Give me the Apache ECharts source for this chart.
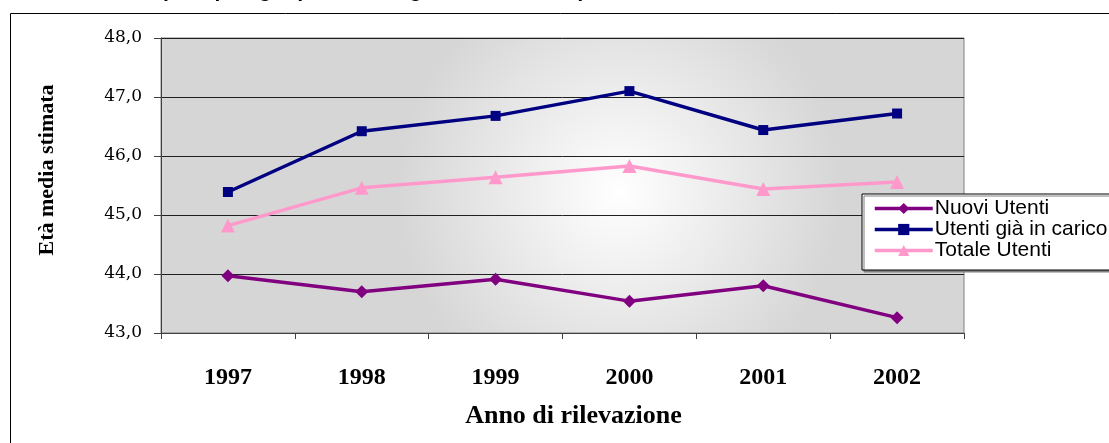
<!DOCTYPE html>
<html>
<head>
<meta charset="utf-8">
<script src="https://cdn.jsdelivr.net/npm/echarts@6/dist/echarts.min.js"></script>
<style>html,body{margin:0;padding:0;background:#fff}#c{width:1109px;height:443px}</style>
</head>
<body>
<div id="c"></div>
<script>
const years = ['1997','1998','1999','2000','2001','2002'];
const nuoviUtenti = [43.97, 43.70, 43.91, 43.54, 43.80, 43.26];
const utentiGiaInCarico = [45.39, 46.42, 46.68, 47.10, 46.44, 46.72];
const totaleUtenti = [44.82, 45.46, 45.64, 45.83, 45.44, 45.56];
const seriesNames = ['Nuovi Utenti', 'Utenti già in carico', 'Totale Utenti'];
const titleText = 'Età media per tipologia (utenti in regione Lombardia)';
const yAxisTitle = 'Età media stimata';
const xAxisTitle = 'Anno di rilevazione';

const chart = echarts.init(document.getElementById('c'), null, {renderer: 'canvas'});
const serif = '"Liberation Serif", "DejaVu Serif", serif';
const sans = '"Liberation Sans", Arial, sans-serif';
chart.setOption({
  animation: false,
  backgroundColor: '#fff',
  graphic: [
    {type: 'rect', left: 10, top: 13, z: -10, silent: true,
     shape: {width: 1200, height: 500},
     style: {fill: 'transparent', stroke: '#000', lineWidth: 1}},
    {type: 'text', left: 58, top: -19, silent: true,
     style: {text: titleText, fill: '#000', font: 'bold 21px ' + sans}},
    {type: 'text', x: 47, y: 170, rotation: Math.PI / 2, silent: true,
     style: {text: yAxisTitle, fill: '#000', font: 'bold 22px ' + serif,
             align: 'center', verticalAlign: 'middle'}}
  ],
  grid: {
    left: 161, right: 145, top: 38, bottom: 110,
    show: true,
    borderColor: '#808080', borderWidth: 1,
    backgroundColor: {
      type: 'radial', x: 0.57, y: 0.52, r: 0.75,
      colorStops: [{offset: 0, color: '#ffffff'}, {offset: 1, color: '#d6d6d6'}]
    }
  },
  legend: {
    orient: 'vertical', left: 862, top: 194,
    itemWidth: 58, itemHeight: 14, itemGap: 0,
    padding: [4, 10, 9, 11],
    backgroundColor: '#fff', borderColor: '#000', borderWidth: 1,
    shadowColor: '#808080', shadowBlur: 0, shadowOffsetX: 2, shadowOffsetY: 2,
    lineStyle: {width: 3.5},
    textStyle: {fontFamily: sans, fontSize: 21, lineHeight: 20, color: '#000', padding: [0, 0, 0, -3]},
    data: seriesNames
  },
  xAxis: {
    type: 'category', data: years, boundaryGap: true,
    name: xAxisTitle, nameLocation: 'middle', nameGap: 70,
    nameTextStyle: {fontFamily: serif, fontSize: 26, fontWeight: 'bold', color: '#000', padding: [0, 0, 0, 22]},
    axisLine: {lineStyle: {color: '#404040', width: 1}},
    axisTick: {show: true, length: 6, lineStyle: {color: '#404040'}},
    axisLabel: {fontFamily: serif, fontSize: 24, fontWeight: 'bold', color: '#000', margin: 33},
    splitLine: {show: false}
  },
  yAxis: {
    type: 'value', min: 43, max: 48, interval: 1,
    axisLine: {show: true, lineStyle: {color: '#404040', width: 1}},
    axisTick: {show: true, length: 7, lineStyle: {color: '#404040'}},
    axisLabel: {fontFamily: '"DejaVu Serif", serif', fontSize: 17, color: '#000', margin: 19,
      formatter: v => v.toFixed(1).replace('.', ',')},
    splitLine: {show: true, lineStyle: {color: '#202020', width: 1}}
  },
  series: [
    {name: seriesNames[0], type: 'line', data: nuoviUtenti,
     symbol: 'diamond', symbolSize: 13, color: '#800080',
     lineStyle: {width: 3.5, color: '#800080'}, itemStyle: {color: '#800080'}},
    {name: seriesNames[1], type: 'line', data: utentiGiaInCarico,
     symbol: 'rect', symbolSize: 10, color: '#000080',
     lineStyle: {width: 3.5, color: '#000080'}, itemStyle: {color: '#000080'}},
    {name: seriesNames[2], type: 'line', data: totaleUtenti,
     symbol: 'triangle', symbolSize: 14, color: '#FF99CC',
     lineStyle: {width: 3.5, color: '#FF99CC'}, itemStyle: {color: '#FF99CC'}}
  ]
});
</script>
</body>
</html>
